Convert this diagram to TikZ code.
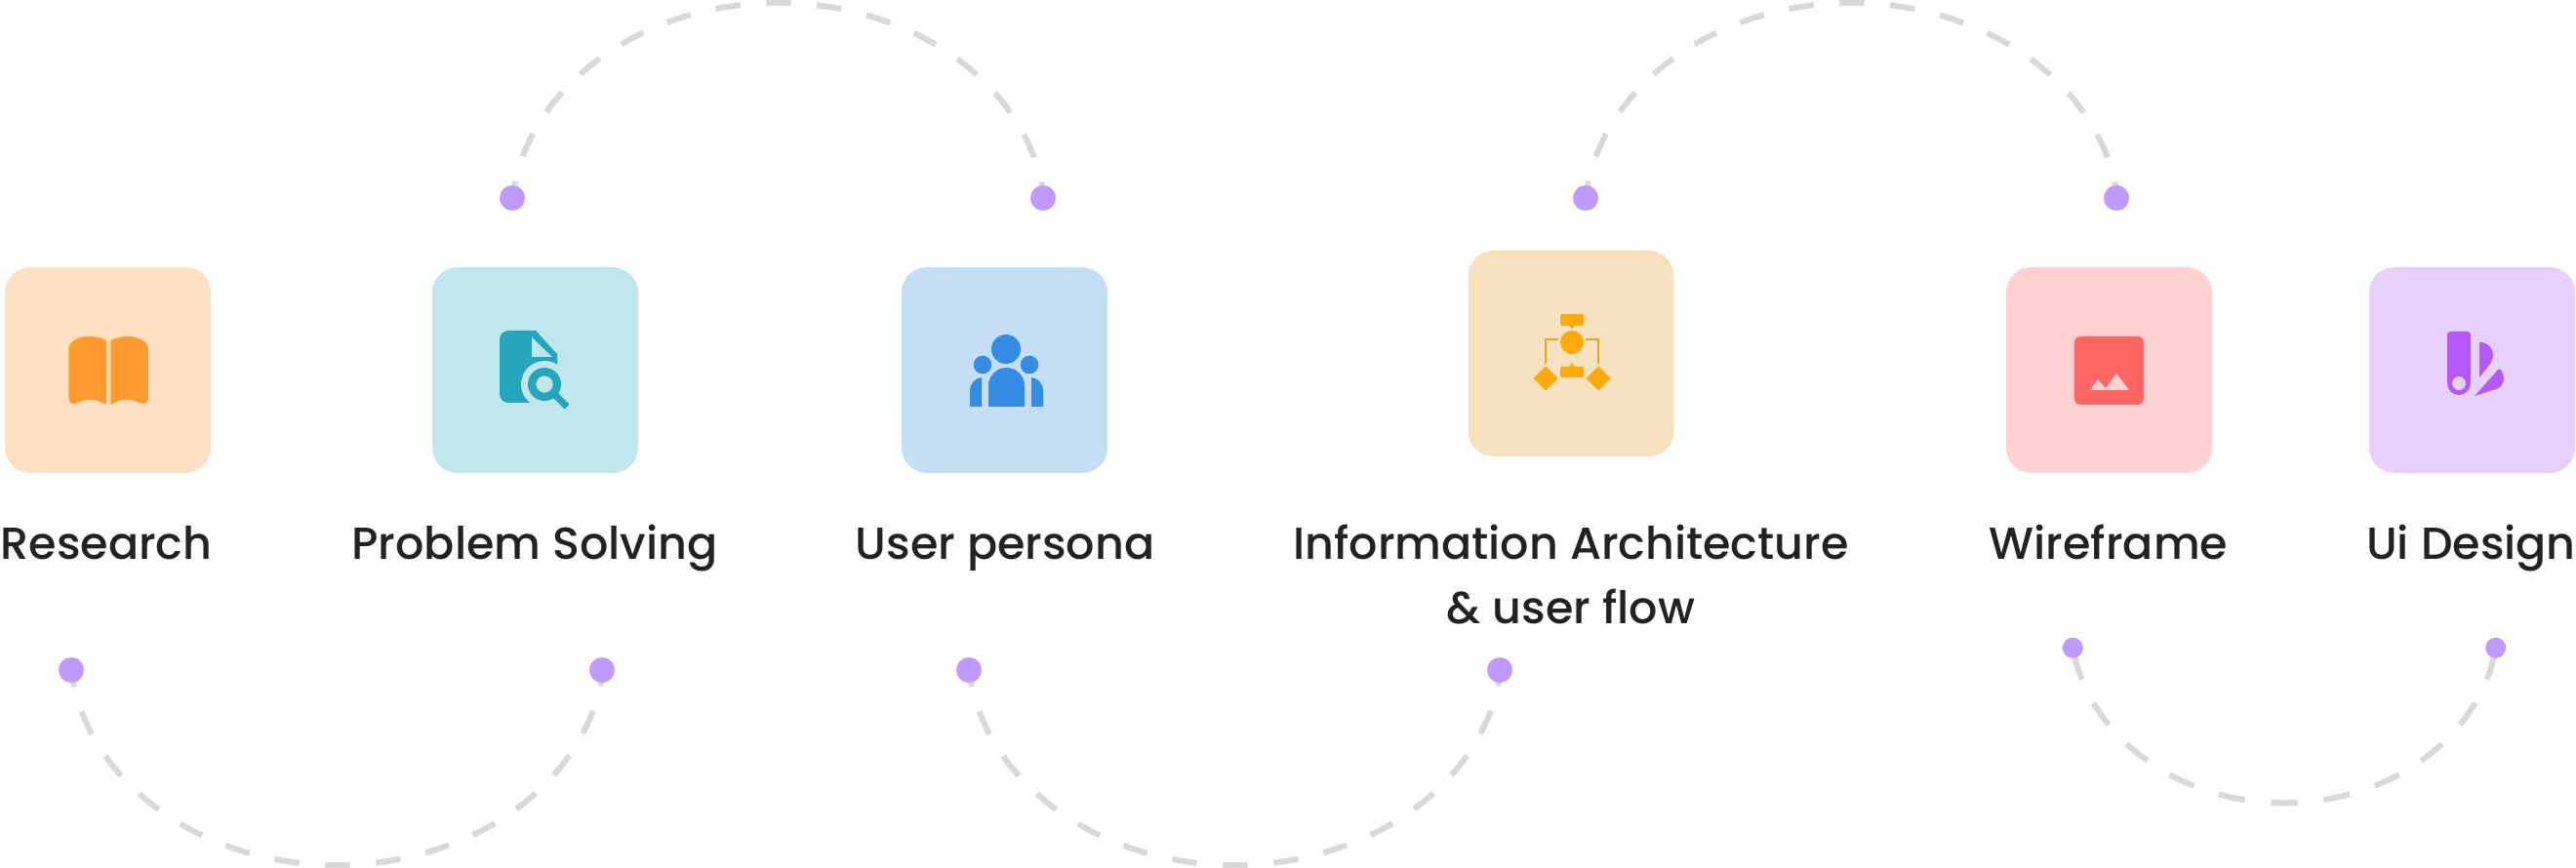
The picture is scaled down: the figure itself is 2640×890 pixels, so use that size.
\documentclass[tikz,border=0pt]{standalone}
\usepackage{fontspec}
\setmainfont{Poppins}[UprightFont=* Medium]
\usetikzlibrary{backgrounds}
\definecolor{dotc}{HTML}{BD9AFC}
\definecolor{dashc}{HTML}{D9D9D9}
\definecolor{txt}{HTML}{222222}
\definecolor{boxA}{HTML}{FEE0C4}\definecolor{icoA}{HTML}{FF9A2E}
\definecolor{boxB}{HTML}{C1E6EB}\definecolor{icoB}{HTML}{26A6BC}
\definecolor{boxC}{HTML}{C4DEF6}\definecolor{icoC}{HTML}{348CE3}
\definecolor{boxD}{HTML}{F6E2BE}\definecolor{icoD}{HTML}{FFAA0A}\definecolor{lineD}{HTML}{E8A31E}
\definecolor{boxE}{HTML}{FFD1D1}\definecolor{icoE}{HTML}{FF6663}
\definecolor{boxF}{HTML}{E8D0FC}\definecolor{icoF}{HTML}{B259F7}
\tikzset{
  tile/.style={rectangle,rounded corners=26pt,minimum size=211pt,inner sep=0pt,draw=none},
  bigdot/.style={circle,fill=dotc,minimum size=26pt,inner sep=0pt,draw=none},
  smalldot/.style={circle,fill=dotc,minimum size=21pt,inner sep=0pt,draw=none},
  label/.style={anchor=base,text=txt,align=center,font=\fontsize{46}{66}\selectfont,inner sep=0pt},
  bigarc/.style={draw=dashc,line width=6pt,dash pattern=on 25.5pt off 26.5pt,dash phase=8pt},
  smallarc/.style={draw=dashc,line width=6pt,dash pattern=on 27.3pt off 27pt,dash phase=48pt}
}
\begin{document}
\begin{tikzpicture}[x=1pt,y=-1pt]
\useasboundingbox (0,0) rectangle (2640,890);
% tiles
\node[tile,fill=boxA] (t1) at (110.5,379.5) {};
\node[tile,fill=boxB] (t2) at (548.5,379.5) {};
\node[tile,fill=boxC] (t3) at (1029.5,379.5) {};
\node[tile,fill=boxD] (t4) at (1610,362.5) {};
\node[tile,fill=boxE] (t5) at (2161.5,379.5) {};
\node[tile,fill=boxF] (t6) at (2533.5,379.5) {};
% labels
\node[label] (l1) at (109,573) {Research};
\node[label] (l2) at (548,573) {Problem Solving};
\node[label] (l3) at (1030,573) {User persona};
\node[label] (l4) at (1610,639) {Information Architecture\\\& user flow};
\node[label] (l5) at (2161,573) {Wireframe};
\node[label] (l6) at (2532.5,573) {Ui Design};
% dots
\node[bigdot] (a1) at (525,203) {};
\node[bigdot] (a2) at (1069,203) {};
\node[bigdot] (b1) at (1625,203) {};
\node[bigdot] (b2) at (2169,203) {};
\node[bigdot] (c1) at (73,687) {};
\node[bigdot] (c2) at (617,687) {};
\node[bigdot] (d1) at (993,687) {};
\node[bigdot] (d2) at (1537,687) {};
\node[smalldot] (e1) at (2124.3,664.3) {};
\node[smalldot] (e2) at (2557.7,664.3) {};
% arcs
\begin{scope}[on background layer]
\draw[bigarc] (a1.center) arc[start angle=185.92,end angle=354.08,x radius=274,y radius=223];
\draw[bigarc] (b1.center) arc[start angle=185.92,end angle=354.08,x radius=274,y radius=223];
\draw[bigarc] (c1.center) arc[start angle=174.08,end angle=5.92,x radius=274,y radius=223];
\draw[bigarc] (d1.center) arc[start angle=174.08,end angle=5.92,x radius=274,y radius=223];
\draw[smallarc] (e1.center) arc[start angle=171.4,end angle=8.6,x radius=219.2,y radius=187];
\end{scope}
% book icon
\fill[icoA] (109,349) .. controls (102.4,345.5) and (95.4,345) .. (88.4,345) .. controls (82.4,345.5) and (76.4,348) .. (73.4,351) .. controls (71.4,353) and (70.4,355) .. (70.4,358) -- (70.4,408) .. controls (70.4,413) and (74.4,415) .. (78.4,413.5) .. controls (88.4,408.5) and (98.4,408.5) .. (109,415) -- cycle;
\fill[icoA] (113.3,349) .. controls (119.9,345.5) and (126.9,345) .. (133.9,345) .. controls (139.9,345.5) and (145.9,348) .. (148.9,351) .. controls (150.9,353) and (151.9,355) .. (151.9,358) -- (151.9,408) .. controls (151.9,413) and (147.9,415) .. (143.9,413.5) .. controls (133.9,408.5) and (123.9,408.5) .. (113.3,415) -- cycle;
% document + magnifier icon
\fill[icoB] (549,339) [rounded corners=9pt] -- (512,339) -- (512,413) [sharp corners] -- (558,413) -- (571,376) -- (571,363) -- cycle;
\fill[boxB] (545,346) -- (566,366) -- (545,366) -- cycle;
\fill[boxB] (558,394) circle[radius=24];
\fill[icoB,even odd rule] (558,394) circle[radius=17] (558,394) circle[radius=8.7];
\draw[icoB,line width=7pt] (568,404) -- (581,417);
% people icon
\fill[icoC] (1031,358) circle[radius=15];
\fill[icoC] (1007,374) circle[radius=9.3];
\fill[icoC] (1055,374) circle[radius=9.3];
\fill[icoC] (1013,417) -- (1013,395.5) arc[start angle=180,end angle=360,radius=18.5] -- (1050,417) -- cycle;
\fill[icoC] (1006,387) .. controls (999,388) and (994,393) .. (994,401) -- (994,417) -- (1006,417) -- cycle;
\fill[icoC] (1057,387) .. controls (1064,388) and (1069,393) .. (1069,401) -- (1069,417) -- (1057,417) -- cycle;
% tree icon
\fill[icoD,rounded corners=1.5pt] (1599,322) rectangle (1623,334);
\fill[icoD] (1608,334) -- (1614,334) -- (1611,337) -- cycle;
\fill[icoD] (1611,351) circle[radius=12];
\fill[icoD,rounded corners=1.5pt] (1599,376) rectangle (1623,387);
\fill[icoD] (1608,376) -- (1614,376) -- (1611,372) -- cycle;
\fill[icoD] (1584,375.5) -- (1596.5,388) -- (1584,400.5) -- (1571.5,388) -- cycle;
\fill[icoD] (1638,375.5) -- (1650.5,388) -- (1638,400.5) -- (1625.5,388) -- cycle;
\draw[lineD,line width=2.5pt] (1597,348) -- (1584,348) -- (1584,373);
\draw[lineD,line width=2.5pt] (1625,348) -- (1638,348) -- (1638,373);
% image icon
\fill[icoE,rounded corners=6pt] (2126,345) rectangle (2197,415);
\fill[boxE] (2142,400) -- (2150,389) -- (2158,398) -- (2169,383) -- (2182,400) -- cycle;
% palette icon
\fill[icoF,rounded corners=3pt] (2508,393) -- (2508,340) -- (2532,340) -- (2532,393) -- cycle;
\fill[icoF] (2520,393) circle[radius=12];
\fill[boxF] (2520,393) circle[radius=7];
\fill[icoF] (2541,351) .. controls (2550,351) and (2555,357) .. (2555,364) .. controls (2555,368) and (2553,371) .. (2552,373) -- (2541,387) -- cycle;
\fill[icoF] (2561,378) .. controls (2565,381) and (2566,385) .. (2566,388) .. controls (2566,394) and (2562,398) .. (2558,399) -- (2536,406) -- cycle;
\end{tikzpicture}
\end{document}
